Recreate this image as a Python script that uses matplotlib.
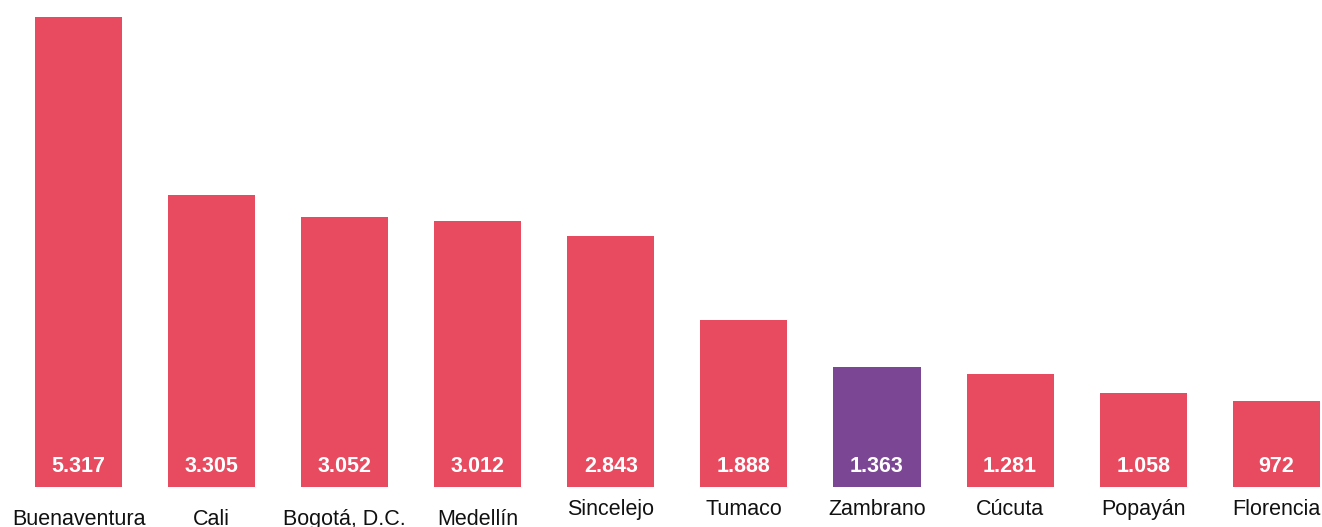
import matplotlib.pyplot as plt
import numpy as np

plt.rcParams['font.family'] = ['Liberation Sans', 'DejaVu Sans']

ciudades = ["Buenaventura", "Cali", "Bogotá, D.C.", "Medellín", "Sincelejo",
            "Tumaco", "Zambrano", "Cúcuta", "Popayán", "Florencia"]
valores = [5317, 3305, 3052, 3012, 2843, 1888, 1363, 1281, 1058, 972]
etiquetas = ["5.317", "3.305", "3.052", "3.012", "2.843",
             "1.888", "1.363", "1.281", "1.058", "972"]

rojo = "#e84a5f"
morado = "#7b4795"
colores = [morado if c == "Zambrano" else rojo for c in ciudades]

fig = plt.figure(figsize=(13.22, 5.27), dpi=100)
ax = fig.add_axes([0, 0, 1, 1])

x = np.arange(len(ciudades))
ax.bar(x, valores, width=0.654, color=colores)

for i, (c, e) in enumerate(zip(ciudades, etiquetas)):
    ax.text(i, 170, e, ha="center", va="baseline", color="white",
            fontsize=15.5, fontweight="bold")
    # las primeras cuatro etiquetas van un poco mas abajo
    y_lab = -430 if i < 4 else -317
    ax.text(i, y_lab, c, ha="center", va="baseline", color="#111111",
            fontsize=15.5)

ax.set_xlim(-0.59, 9.344)
ax.set_ylim(-452.5, 5509)
ax.axis("off")

fig.savefig("out.png", dpi=100)
